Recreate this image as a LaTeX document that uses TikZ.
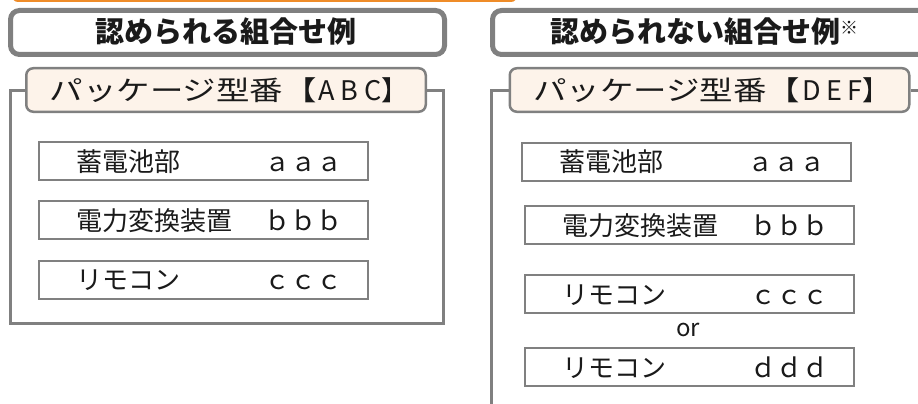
\documentclass[tikz,border=0pt]{standalone}
\usepackage{fontspec}
\setmainfont{Noto Sans CJK JP}
\definecolor{frgray}{HTML}{808080}
\definecolor{pkgfill}{HTML}{FDF3EA}
\definecolor{barorange}{HTML}{EF8C28}
\definecolor{txtcol}{HTML}{1A1A1A}
\newcommand{\pkgtext}[1]{\scalebox{1.24}[1]{パッケージ型番【}#1】}
\begin{document}
\begin{tikzpicture}[x=1pt,y=-1pt,
  titlebox/.style={draw=frgray, line width=5pt, rounded corners=9pt, fill=white, inner sep=0pt},
  titletxt/.style={font=\fontsize{29}{32}\selectfont\bfseries, text=txtcol, inner sep=0pt},
  pkgbox/.style={draw=frgray, line width=2.5pt, rounded corners=7pt, fill=pkgfill,
    minimum width=399.5pt, minimum height=43.5pt, inner sep=0pt},
  pkgtxt/.style={font=\fontsize{27}{30}\selectfont, text=txtcol, inner sep=0pt, anchor=west},
  itembox/.style={draw=frgray, line width=2pt, fill=white,
    minimum width=329pt, minimum height=38pt, inner sep=0pt},
  framepath/.style={draw=frgray, line width=3pt},
  itemtxt/.style={font=\fontsize{26}{30}\selectfont, anchor=base west, inner sep=0pt, text=txtcol},
  ortxt/.style={font=\fontsize{24}{28}\selectfont, inner sep=0pt, text=txtcol}
]
\clip (0,0) rectangle (918,404);
% orange bar at the top
\fill[barorange, rounded corners=6pt] (12,-20) rectangle (517,2);

% ---------- left column ----------
\node[titlebox, minimum width=434pt, minimum height=44pt] (titleA) at (227.5,32.5) {};
\node[titletxt] (titleAtxt) at (226,32) {認められる組合せ例};

\coordinate (fAbl) at (10,323);
\coordinate (fAbr) at (443,323);
\node[pkgbox] (pkgA) at (226,90) {};
\node[pkgtxt] (pkgAtxt) at ([xshift=24.5pt]pkgA.west) {\pkgtext{\hspace{2pt}A\hspace{5.5pt}B\hspace{5.5pt}C}};
\draw[framepath] (pkgA.west) -| (fAbl) -- (fAbr) |- (pkgA.east);

\node[itembox] (a1) at (203.5,161) {};
\node[itembox] (a2) at (203.5,220) {};
\node[itembox] (a3) at (203.5,279.5) {};
\foreach \b/\l/\r in {a1/蓄電池部/ａａａ, a2/電力変換装置/ｂｂｂ, a3/リモコン/ｃｃｃ}{
  \node[itemtxt] (\b l) at ([xshift=38pt,yshift=-10pt]\b.west) {\l};
  \node[itemtxt] (\b r) at ([xshift=226pt,yshift=-10pt]\b.west) {\r};
}

% ---------- right column ----------
\node[titlebox, minimum width=457.5pt, minimum height=44pt] (titleB) at (721.25,32.5) {};
\node[titletxt, anchor=west] (titleBtxt) at (550,32) {認められない組合せ例\raisebox{0.3em}{\fontsize{18}{18}\selectfont\mdseries ※}};

\coordinate (fBbl) at (491,430);
\coordinate (fBbr) at (945,430);
\node[pkgbox] (pkgB) at (709.5,90) {};
\node[pkgtxt] (pkgBtxt) at ([xshift=24.5pt]pkgB.west) {\pkgtext{\hspace{2pt}D\hspace{5.5pt}E\hspace{5.5pt}F}};
\draw[framepath] (pkgB.west) -| (fBbl) -- (fBbr) |- (pkgB.east);

\node[itembox] (b1) at (686.5,161.5) {};
\node[itembox] (b2) at (689.5,225) {};
\node[itembox] (b3) at (689.5,294) {};
\node[itembox] (b4) at (689.5,367) {};
\foreach \b/\l/\r in {b1/蓄電池部/ａａａ, b2/電力変換装置/ｂｂｂ, b3/リモコン/ｃｃｃ, b4/リモコン/ｄｄｄ}{
  \node[itemtxt] (\b l) at ([xshift=38pt,yshift=-10pt]\b.west) {\l};
  \node[itemtxt] (\b r) at ([xshift=226pt,yshift=-10pt]\b.west) {\r};
}
\node[ortxt] (or) at (688,330) {or};
\end{tikzpicture}
\end{document}
